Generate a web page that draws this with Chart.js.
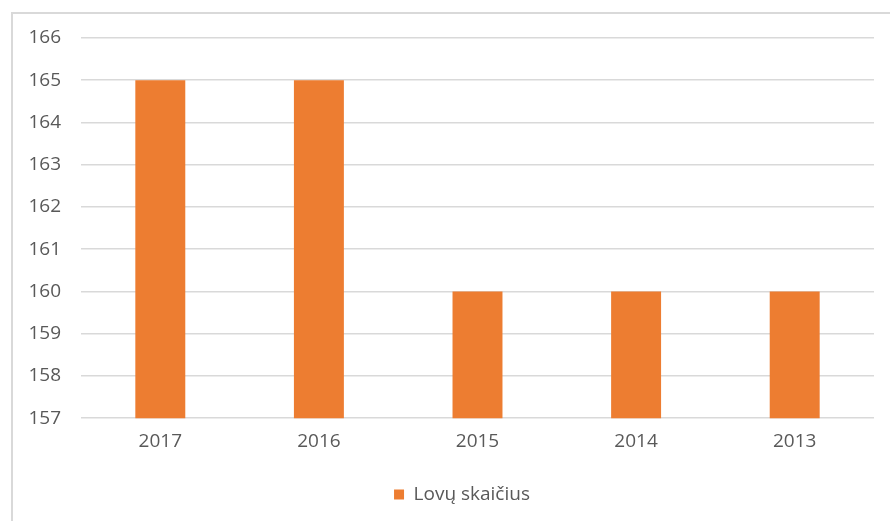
<!DOCTYPE html>
<html>
<head>
<meta charset="utf-8">
<script src="https://cdn.jsdelivr.net/npm/chart.js@4"></script>
<style>
html,body{margin:0;padding:0;background:#fff;}
#wrap{position:relative;width:890px;height:521px;}
</style>
</head>
<body>
<div id="wrap"><canvas id="c" width="890" height="521"></canvas></div>
<script>
const categories = ['2017', '2016', '2015', '2014', '2013'];
const seriesName = 'Lovų skaičius';
const values = [165, 165, 160, 160, 160];
const yMin = 157, yMax = 166, yStep = 1;

const frame = {
  id: 'frame',
  afterLayout(chart) {
    const lg = chart.legend;
    if (lg) { lg.left += 25; lg.right += 25; }
  },
  beforeDraw(chart) {
    const ctx = chart.ctx;
    ctx.save();
    ctx.strokeStyle = '#d9d9d9';
    ctx.lineWidth = 2;
    ctx.strokeRect(12, 13, 900, 540);
    ctx.restore();
  }
};

Chart.defaults.font.family = '"Open Sans", sans-serif';
Chart.defaults.color = '#595959';

new Chart(document.getElementById('c'), {
  type: 'bar',
  data: {
    labels: categories,
    datasets: [{
      label: seriesName,
      data: values,
      backgroundColor: '#ED7D31',
      borderWidth: 0,
      categoryPercentage: 1,
      barPercentage: 0.315
    }]
  },
  options: {
    responsive: false,
    animation: false,
    layout: { padding: { left: 0, right: 16, top: 38, bottom: 7 } },
    scales: {
      x: {
        grid: { display: false },
        border: { display: false },
        ticks: { font: { size: 19 }, padding: 4, color: '#595959' },
        afterFit(s) { s.height += 8; }
      },
      y: {
        min: yMin, max: yMax,
        ticks: { stepSize: yStep, font: { size: 19 }, padding: 20, color: '#595959' },
        grid: { color: '#d9d9d9', lineWidth: 1.5, drawTicks: false },
        border: { display: false },
        afterFit(s) { s.width = 81; }
      }
    },
    plugins: {
      legend: {
        position: 'bottom',
        labels: { boxWidth: 10, boxHeight: 10, font: { size: 19 }, color: '#595959', padding: 20 }
      },
      tooltip: { enabled: false }
    }
  },
  plugins: [frame]
});
</script>
</body>
</html>
